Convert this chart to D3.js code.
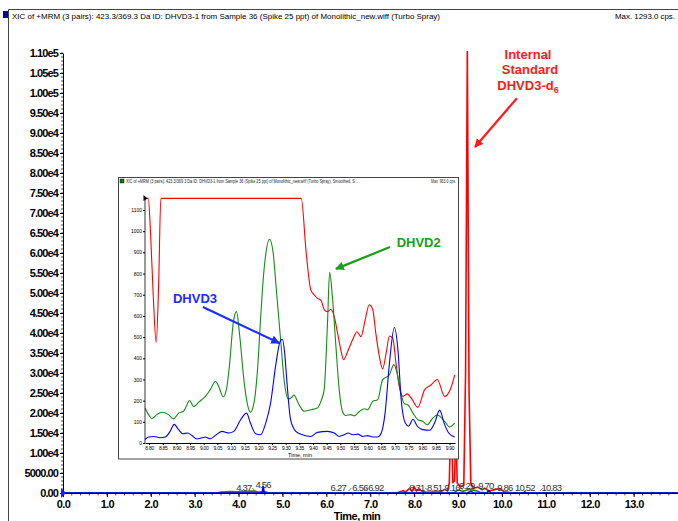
<!DOCTYPE html>
<html>
<head>
<meta charset="utf-8">
<script src="https://cdn.jsdelivr.net/npm/d3@7"></script>
<style>
  body { margin: 0; background: #fff; }
  svg { display: block; font-family: "Liberation Sans Narrow", "Arial Narrow", "Liberation Sans", Arial, sans-serif; }
</style>
</head>
<body>
<script>
// ---- data ----
const mainTicksX = d3.range(0, 14, 1);
const mainTicksY = d3.range(0, 110001, 5000);

// full run, counts per time (min)
const mainRed = [[0,0],[7.6,0],[7.75,600],[7.8,200],[7.9,1200],[7.95,400],[8.0,1500],[8.05,500],[8.1,1000],[8.2,300],[8.3,200],
  [8.6,300],[8.7,900],[8.76,500],[8.8,2500],[8.84,24000],[8.88,2700],[8.92,3000],[8.95,18000],[8.98,2500],[9.05,1500],
  [9.13,2000],[9.17,30000],[9.21,110500],[9.25,25000],[9.29,2500],[9.35,1200],[9.45,1500],[9.55,800],[9.6,1200],
  [9.7,500],[9.85,900],[9.95,1100],[10.05,300],[10.3,0],[14,0]];
const mainGreen = [[0,0],[3.5,0],[3.6,250],[3.8,350],[4.0,300],[4.2,400],[4.35,500],[4.45,250],[4.6,300],[4.7,0],
  [8.9,0],[9.0,800],[9.1,400],[9.25,900],[9.4,600],[9.5,200],[9.7,0],[14,0]];
const mainBlue = [[0,0],[4.5,0],[4.54,200],[4.56,1800],[4.58,200],[4.62,0],[9.2,0],[9.29,400],[9.35,0],[9.65,0],
  [9.7,600],[9.75,0],[10.5,0],[10.52,300],[10.55,0],[14,0]];
const peakTimes = ["4.37","4.56","6.27","6.56","6.92","8.31","8.51","9.16","9.29","9.70","9.86","10.52","10.83"];

// zoomed view 8.8 - 9.9 min, smoothed
const insetTicksX = d3.range(0, 23).map(i => 8.80 + i * 0.05);
const insetTicksY = d3.range(0, 1101, 100);
const insetRed = [[8.785,1155],[8.797,1155],[8.805,1000],[8.815,700],[8.826,475],[8.835,750],[8.843,1155],[9.357,1155],
  [9.375,900],[9.392,723],[9.404,700],[9.416,684],[9.43,672],[9.441,630],[9.453,620],[9.465,630],[9.478,597],[9.49,519],
  [9.502,440],[9.512,393],[9.527,432],[9.545,487],[9.561,525],[9.576,502],[9.59,574],[9.606,653],[9.619,629],[9.63,519],
  [9.643,409],[9.655,350],[9.668,425],[9.68,505],[9.692,495],[9.704,377],[9.716,267],[9.729,220],[9.745,232],[9.76,212],
  [9.784,168],[9.809,252],[9.833,275],[9.855,300],[9.882,220],[9.907,267],[9.919,322]];
const insetGreen = [[8.785,165],[8.798,134],[8.81,115],[8.828,134],[8.847,145],[8.871,134],[8.89,114],[8.908,141],
  [8.926,150],[8.936,173],[8.948,201],[8.963,172],[8.981,192],[9.006,220],[9.024,252],[9.043,290],[9.055,267],[9.071,218],
  [9.083,252],[9.095,377],[9.108,566],[9.12,620],[9.132,503],[9.147,299],[9.159,189],[9.171,145],[9.184,189],[9.196,330],
  [9.208,582],[9.217,760],[9.228,900],[9.241,962],[9.254,900],[9.266,722],[9.282,480],[9.295,290],[9.31,208],[9.322,215],
  [9.33,226],[9.349,181],[9.367,150],[9.392,157],[9.416,165],[9.43,200],[9.441,252],[9.453,560],[9.461,806],[9.471,692],
  [9.484,456],[9.496,252],[9.508,149],[9.52,130],[9.539,134],[9.551,128],[9.57,149],[9.588,162],[9.6,157],[9.619,197],
  [9.637,204],[9.655,299],[9.68,322],[9.696,370],[9.708,330],[9.723,228],[9.735,185],[9.747,181],[9.766,141],[9.784,110],
  [9.802,102],[9.818,86],[9.839,118],[9.855,132],[9.882,102],[9.9,76],[9.919,94]];
const insetBlue = [[8.785,16],[8.798,28],[8.816,31],[8.84,25],[8.859,28],[8.877,55],[8.892,88],[8.908,63],[8.924,44],
  [8.941,47],[8.957,35],[8.975,19],[8.994,25],[9.006,28],[9.024,20],[9.046,39],[9.067,55],[9.092,47],[9.11,55],[9.135,110],
  [9.157,141],[9.171,94],[9.19,44],[9.208,39],[9.227,94],[9.245,189],[9.263,362],[9.28,480],[9.288,490],[9.296,430],
  [9.304,299],[9.318,110],[9.337,55],[9.361,39],[9.392,31],[9.416,50],[9.453,55],[9.478,47],[9.496,31],[9.514,39],
  [9.529,47],[9.545,39],[9.564,42],[9.582,31],[9.6,35],[9.619,28],[9.637,28],[9.65,47],[9.664,141],[9.68,377],[9.698,545],
  [9.711,440],[9.723,204],[9.738,94],[9.75,79],[9.766,112],[9.782,79],[9.802,63],[9.827,60],[9.845,94],[9.864,155],
  [9.88,94],[9.897,47],[9.919,28]];

const RED = "#ff0000", GREEN = "#168c16", BLUE = "#0000ff";

const svg = d3.select("body").append("svg").attr("width", 678).attr("height", 521);

svg.append("defs").selectAll("marker")
  .data([["ah-red", "#ff1a1a"], ["ah-green", "#17a017"], ["ah-blue", "#1a2cff"]])
  .join("marker")
  .attr("id", d => d[0]).attr("viewBox", "0 0 10 10").attr("refX", 9).attr("refY", 5)
  .attr("markerWidth", 4).attr("markerHeight", 4).attr("orient", "auto")
  .append("path").attr("d", "M0,0L10,5L0,10z").attr("fill", d => d[1]);

// outer frame + header
svg.append("path").attr("d", "M8.5,521V9.5H678").attr("fill", "none").attr("stroke", "#444");
svg.append("rect").attr("x", 3).attr("y", 11).attr("width", 5).attr("height", 7).attr("fill", "#0000c0");
svg.append("text").attr("x", 12).attr("y", 19).attr("font-size", 8)
  .attr("textLength", 428).attr("lengthAdjust", "spacingAndGlyphs")
  .text("XIC of +MRM (3 pairs): 423.3/369.3 Da ID: DHVD3-1 from Sample 36 (Spike 25 ppt) of Monolithic_new.wiff (Turbo Spray)");
svg.append("text").attr("x", 615).attr("y", 19).attr("font-size", 8)
  .attr("textLength", 60).attr("lengthAdjust", "spacingAndGlyphs").text("Max. 1293.0 cps.");

// ---- main chromatogram ----
const x = d3.scaleLinear().domain([0, 14]).range([63, 677.6]);
const y = d3.scaleLinear().domain([0, 110000]).range([493, 53]);

const fmtY = v => {
  if (v === 0) return "0.00";
  if (v < 10000) return v.toFixed(2);
  const e = Math.floor(Math.log10(v));
  return (v / Math.pow(10, e)).toFixed(2) + "e" + e;
};

const line = d3.line().x(d => x(d[0])).y(d => y(d[1]));
[[mainRed, RED], [mainGreen, GREEN], [mainBlue, BLUE]].forEach(([s, c]) => {
  svg.append("path").datum(s).attr("d", line).attr("fill", "none")
    .attr("stroke", c).attr("stroke-width", 1.6);
});

// minor ticks
svg.append("g").selectAll("line").data(d3.range(0, 110001, 1000)).join("line")
  .attr("x1", 61).attr("x2", 63).attr("y1", d => y(d)).attr("y2", d => y(d)).attr("stroke", "#000").attr("stroke-width", 0.7);
svg.append("g").selectAll("line").data(d3.range(0, 13.95, 0.2)).join("line")
  .attr("x1", d => x(d)).attr("x2", d => x(d)).attr("y1", 493).attr("y2", 495.5).attr("stroke", "#000").attr("stroke-width", 0.7);

const yAxis = svg.append("g").attr("transform", "translate(63,0)")
  .call(d3.axisLeft(y).tickValues(mainTicksY).tickFormat(fmtY).tickSize(3).tickSizeOuter(0).tickPadding(2));
yAxis.attr("font-family", null).attr("font-size", 11).attr("font-weight", "bold");
yAxis.selectAll("text").attr("letter-spacing", -0.9).attr("fill", "#000");

const xAxis = svg.append("g").attr("transform", "translate(0,493)")
  .call(d3.axisBottom(x).tickValues(mainTicksX).tickFormat(d3.format(".1f")).tickSize(4).tickSizeOuter(0).tickPadding(3));
xAxis.attr("font-family", null).attr("font-size", 11).attr("font-weight", "bold");
xAxis.selectAll("text").attr("letter-spacing", -0.6).attr("fill", "#000");
xAxis.select(".domain").attr("stroke-width", 1.2);

svg.append("path").attr("d", "M61,488L66,493L61,498z").attr("fill", "#1a1aff");

svg.append("text").attr("x", 357).attr("y", 520).attr("text-anchor", "middle")
  .attr("font-size", 11).attr("font-weight", "bold").attr("letter-spacing", -0.5).text("Time, min");

// apex labels
const nudge = { "4.37": -11, "6.56": 9, "6.92": 9, "8.31": -11, "8.51": -2, "9.16": -13, "9.29": -4, "9.70": -3, "9.86": 9, "10.83": 13 };
const lift = { "4.56": 3, "9.70": 2, "9.29": 2 };
const pl = svg.append("g").attr("font-size", 9.5).attr("fill", "#333");
peakTimes.forEach(t => {
  const px = x(+t), dx = nudge[t] || 0, by = 491 - (lift[t] || 0);
  pl.append("text").attr("x", px + dx).attr("y", by).attr("text-anchor", "middle")
    .attr("letter-spacing", -0.8).text(t);
  if (Math.abs(dx) > 5) {
    const edge = px + dx + (dx < 0 ? 8.5 : -8.5);
    pl.append("line").attr("x1", edge).attr("y1", by - 3).attr("x2", edge + (dx < 0 ? 3 : -3)).attr("y2", by)
      .attr("stroke", "#333").attr("stroke-width", 0.7);
  }
});

// internal standard annotation
const isg = svg.append("g").attr("fill", "#ff1a1a").attr("font-size", 13).attr("font-weight", "bold")
  .attr("font-family", "'Liberation Sans', Arial, sans-serif").attr("text-anchor", "middle");
isg.append("text").attr("x", 528).attr("y", 59).text("Internal");
isg.append("text").attr("x", 530).attr("y", 74).text("Standard");
const d6 = isg.append("text").attr("x", 528).attr("y", 90);
d6.append("tspan").text("DHVD3-d");
d6.append("tspan").attr("font-size", 9).attr("dy", 3).text("6");
svg.append("line").attr("x1", x(10.34)).attr("y1", y(98700)).attr("x2", x(9.385)).attr("y2", y(86500))
  .attr("stroke", "#ff1a1a").attr("stroke-width", 2.2).attr("marker-end", "url(#ah-red)");

// ---- inset ----
svg.append("rect").attr("x", 118.5).attr("y", 177.5).attr("width", 340).attr("height", 281.5)
  .attr("fill", "#fff").attr("stroke", "#444");
svg.append("rect").attr("x", 120).attr("y", 179).attr("width", 4).attr("height", 4).attr("fill", "#0a7a0a").attr("stroke", "#000").attr("stroke-width", 0.4);
svg.append("text").attr("x", 126).attr("y", 183).attr("font-size", 4.8).attr("fill", "#222")
  .attr("textLength", 232).attr("lengthAdjust", "spacingAndGlyphs")
  .text("XIC of +MRM (3 pairs): 423.3/369.3 Da ID: DHVD3-1 from Sample 36 (Spike 25 ppt) of Monolithic_new.wiff (Turbo Spray), Smoothed, S...");
svg.append("text").attr("x", 456).attr("y", 183).attr("font-size", 4.8).attr("fill", "#222").attr("text-anchor", "end")
  .attr("textLength", 25).attr("lengthAdjust", "spacingAndGlyphs").text("Max. 963.0 cps.");

const xi = d3.scaleLinear().domain([8.785, 9.92]).range([145, 455]);
const yi = d3.scaleLinear().domain([0, 1100]).range([443, 210]);

svg.append("clipPath").attr("id", "inclip").append("rect").attr("x", 145).attr("y", 186).attr("width", 311).attr("height", 260);
const lineIn = d3.line().curve(d3.curveMonotoneX).x(d => xi(d[0])).y(d => yi(d[1]));
const ig = svg.append("g").attr("clip-path", "url(#inclip)");
[[insetRed, RED], [insetGreen, GREEN], [insetBlue, BLUE]].forEach(([s, c]) => {
  ig.append("path").datum(s).attr("d", lineIn).attr("fill", "none").attr("stroke", c).attr("stroke-width", 1.1);
});

const yiAxis = svg.append("g").attr("transform", "translate(145,0)")
  .call(d3.axisLeft(yi).tickValues(insetTicksY).tickFormat(d3.format("d")).tickSize(2).tickSizeOuter(0).tickPadding(1));
yiAxis.attr("font-family", null).attr("font-size", 5);
yiAxis.select(".domain").remove();
svg.append("line").attr("x1", 145).attr("x2", 145).attr("y1", 443).attr("y2", 197).attr("stroke", "#000").attr("stroke-width", 0.8);
svg.append("path").attr("d", "M143.5,195L147.5,198.5L143.5,201z").attr("fill", "#000");

const xiAxis = svg.append("g").attr("transform", "translate(0,443)")
  .call(d3.axisBottom(xi).tickValues(insetTicksX).tickFormat(d3.format(".2f")).tickSize(2).tickSizeOuter(0).tickPadding(1));
xiAxis.attr("font-family", null).attr("font-size", 5);
xiAxis.selectAll("text").attr("letter-spacing", -0.3);
svg.append("text").attr("x", 300).attr("y", 457).attr("text-anchor", "middle").attr("font-size", 5.5).text("Time, min");

// peak call-outs in the inset
const lab = svg.append("g").attr("font-size", 13).attr("font-weight", "bold")
  .attr("font-family", "'Liberation Sans', Arial, sans-serif");
lab.append("text").attr("x", xi(9.787)).attr("y", 247).attr("text-anchor", "middle").attr("fill", "#17a017").text("DHVD2");
svg.append("line").attr("x1", xi(9.682)).attr("y1", yi(925)).attr("x2", xi(9.484)).attr("y2", yi(822))
  .attr("stroke", "#17a017").attr("stroke-width", 2.2).attr("marker-end", "url(#ah-green)");
lab.append("text").attr("x", xi(8.968)).attr("y", 303).attr("text-anchor", "middle").attr("fill", "#1a2cff").text("DHVD3");
svg.append("line").attr("x1", xi(8.997)).attr("y1", yi(642)).attr("x2", xi(9.276)).attr("y2", yi(472))
  .attr("stroke", "#1a2cff").attr("stroke-width", 2.2).attr("marker-end", "url(#ah-blue)");
</script>
</body>
</html>
